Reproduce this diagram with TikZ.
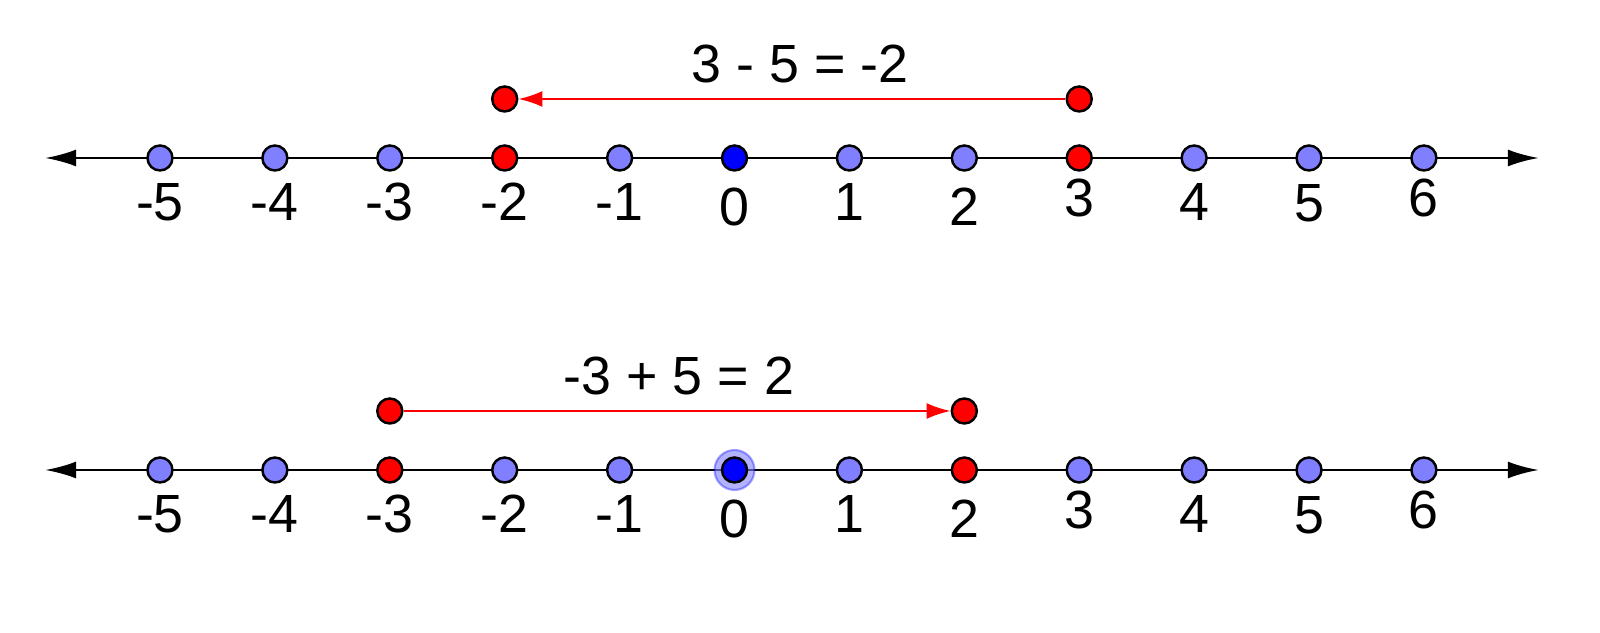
\documentclass[tikz,border=0pt]{standalone}
\usepackage{fontspec}
\setmainfont{Liberation Sans}
\usetikzlibrary{arrows.meta}
\definecolor{ptblue}{RGB}{127,127,255}
\definecolor{ptred}{RGB}{255,0,0}
\definecolor{zeroblue}{RGB}{0,0,255}
\tikzset{
pt/.style={circle,draw=black,line width=0.7pt,inner sep=0pt,minimum size=0.25cm},
axis/.style={line width=0.75pt,{Latex[length=3.1mm,width=1.7mm]}-{Latex[length=3.1mm,width=1.7mm]}},
move/.style={ptred,line width=0.6pt,-{Latex[length=2.4mm,width=1.6mm]}},
lbl/.style={anchor=base,inner sep=0pt,font=\fontsize{15.3}{18}\selectfont},
halo/.style={circle,inner sep=0pt,minimum size=0.4cm,fill=ptblue,fill opacity=0.6,draw=zeroblue,draw opacity=0.35,line width=0.6pt}
}
\begin{document}
\begin{tikzpicture}[x=1.149cm,y=1cm]
\useasboundingbox (-6.3925,1.58) rectangle (7.5326,-4.75);
\def\ya{0} \def\yb{-3.12}
\def\up{0.59} \def\txt{0.16}

\foreach \r/\yy in {a/\ya,b/\yb}{
\coordinate (\r L) at (-6,\yy);
\coordinate (\r R) at (7,\yy);
\draw[axis] (\r L) -- (\r R);
}
\node[halo] (halo) at (0,\yb) {};

\foreach \n/\dy in {-5/0.63,-4/0.63,-3/0.63,-2/0.63,-1/0.63,0/0.68,1/0.63,2/0.68,3/0.59,4/0.63,5/0.64,6/0.59}{
\def\ca{ptblue} \def\cb{ptblue}
\ifnum\n=-2 \def\ca{ptred}\fi
\ifnum\n=3 \def\ca{ptred}\fi
\ifnum\n=-3 \def\cb{ptred}\fi
\ifnum\n=2 \def\cb{ptred}\fi
\ifnum\n=0 \def\ca{zeroblue}\def\cb{zeroblue}\fi
\node[pt,fill=\ca] (a\n) at (\n,\ya) {};
\node[pt,fill=\cb] (b\n) at (\n,\yb) {};
\node[lbl] (la\n) at ([yshift=-\dy cm]a\n.center) {\n};
\node[lbl] (lb\n) at ([yshift=-\dy cm]b\n.center) {\n};
}

\node[pt,fill=ptred] (sa) at (3,\ya+\up) {};
\node[pt,fill=ptred] (ea) at (-2,\ya+\up) {};
\draw[move] (sa) -- (ea);
\node[lbl] (eqa) at (0.57,\ya+\up+\txt) {3 - 5 = -2};

\node[pt,fill=ptred] (sb) at (-3,\yb+\up) {};
\node[pt,fill=ptred] (eb) at (2,\yb+\up) {};
\draw[move] (sb) -- (eb);
\node[lbl] (eqb) at (-0.483,\yb+\up+\txt) {-3 + 5 = 2};
\end{tikzpicture}
\end{document}
